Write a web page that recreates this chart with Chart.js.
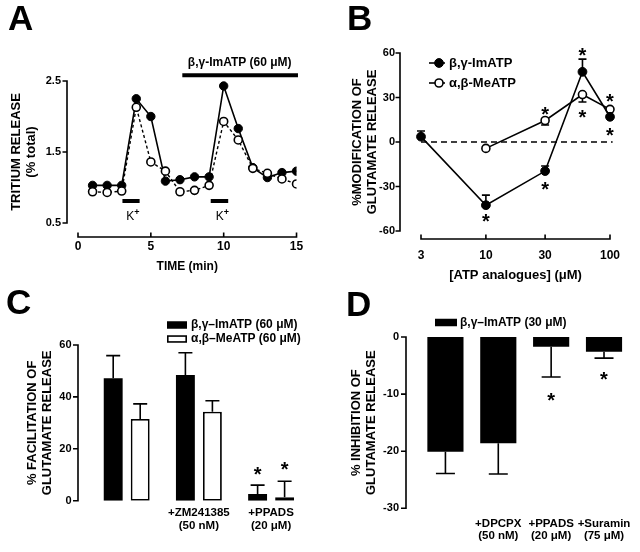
<!DOCTYPE html>
<html>
<head>
<meta charset="utf-8">
<title>ATP analogues and glutamate release</title>
<script src="https://cdn.jsdelivr.net/npm/chart.js@4.4.1/dist/chart.umd.min.js"></script>
<style>
  html, body { margin: 0; padding: 0; background: #fff; }
  #fig { position: relative; width: 640px; height: 552px; overflow: hidden; font-family: 'Liberation Sans', Arial, sans-serif; }
  #fig canvas { position: absolute; }
  .letter { position: absolute; font-size: 35px; font-weight: bold; line-height: 1; color: #000; }
</style>
</head>
<body>
<div id="fig">
  <canvas id="chart-a" width="320" height="276" style="left:0;top:0"></canvas>
  <canvas id="chart-b" width="320" height="290" style="left:320px;top:0"></canvas>
  <canvas id="chart-c" width="320" height="276" style="left:0;top:276px"></canvas>
  <canvas id="chart-d" width="320" height="276" style="left:320px;top:276px"></canvas>
  <div class="letter" style="left:8px;top:0">A</div>
  <div class="letter" style="left:347px;top:0">B</div>
  <div class="letter" style="left:6px;top:284px">C</div>
  <div class="letter" style="left:346px;top:286px">D</div>
</div>
<script>
const FONT = "'Liberation Sans', Arial, Helvetica, sans-serif";

// Panel A - tritium release time course
const timeA = [1, 2, 3, 4, 5, 6, 7, 8, 9, 10, 11, 12, 13, 14, 15];
const imatpA = [1.03, 1.03, 1.03, 2.25, 2.0, 1.09, 1.11, 1.15, 1.15, 2.43, 1.83, 1.28, 1.14, 1.21, 1.23];
const meatpA = [0.94, 0.93, 0.95, 2.13, 1.36, 1.23, 0.94, 0.96, 1.03, 1.93, 1.67, 1.27, 1.2, 1.12, 1.05];
const kStartA = [3.05, 9.11];
const kEndA = [4.23, 10.31];
const kLevelA = 0.81;
const drugSpanA = [7.16, 15.1];
const drugLevelA = 2.58;

// Panel B - concentration response
const concB = [3, 10, 30, 60, 100];
const concTicksB = [3, 10, 30, 100];
const imatpB = [3.6, -42.6, -19.6, 47.3, 17];
const imatpErrB = [3.8, 6.8, 3.4, 8.6, 0];
const meatpB = [null, -4.3, 14.5, 32, 22];
const meatpErrB = [0, 0, -3, -5, 0];
const starsB = [
  {x: 10, y: -50}, {x: 30, y: -28.6}, {x: 30, y: 22}, {x: 60, y: 61.5},
  {x: 60, y: 19.9}, {x: 100, y: 30.7}, {x: 100, y: 8.1}
];

// Panel C - facilitation
const catsC = ['', ['+ZM241385', '(50 nM)'], ['+PPADS', '(20 μM)']];
const imatpC = [47.2, 48.4, 2.6];
const imatpErrC = [8.7, 8.6, 3.4];
const meatpC = [31.5, 34.3, 1.3];
const meatpErrC = [5.8, 4.2, 6.2];
const starsC = [{ds: 0, i: 2, y: 12.2}, {ds: 1, i: 2, y: 13.8}];

// Panel D - inhibition
const catsD = ['', ['+DPCPX', '(50 nM)'], ['+PPADS', '(20 μM)'], ['+Suramin', '(75 μM)']];
const imatpD = [-20.1, -18.6, -1.7, -2.6];
const imatpErrD = [-3.8, -5.4, -5.3, -1.1];
const starsD = [{ds: 0, i: 2, y: -10.3}, {ds: 0, i: 3, y: -6.5}];

Chart.defaults.font.family = FONT;
Chart.defaults.color = '#000';
Chart.defaults.animation = false;
Chart.defaults.responsive = false;
Chart.defaults.layout.autoPadding = false;
Chart.defaults.plugins.legend.display = false;
Chart.defaults.plugins.tooltip.enabled = false;

// Prism-style detached axes
function prismAxes(cfg) {
  return {
    id: 'prismAxes',
    afterDraw(chart) {
      const ctx = chart.ctx, area = chart.chartArea, xs = chart.scales.x, ys = chart.scales.y;
      ctx.save();
      ctx.strokeStyle = '#000';
      ctx.lineWidth = 1.6;
      ctx.setLineDash([]);
      ctx.beginPath();
      const ax = area.left - cfg.yGap;
      ctx.moveTo(ax, ys.getPixelForValue(ys.min) + 0.8);
      ctx.lineTo(ax, ys.getPixelForValue(ys.max) - 0.8);
      ys.ticks.forEach(t => {
        const py = ys.getPixelForValue(t.value);
        ctx.moveTo(ax - cfg.tickLen, py);
        ctx.lineTo(ax, py);
      });
      if (cfg.xGap !== undefined) {
        const ay = area.bottom + cfg.xGap;
        ctx.moveTo(xs.getPixelForValue(xs.min) - 0.8, ay);
        ctx.lineTo(xs.getPixelForValue(xs.max) + 0.8, ay);
        xs.ticks.forEach(t => {
          const px = xs.getPixelForValue(t.value);
          ctx.moveTo(px, ay);
          ctx.lineTo(px, ay - cfg.tickLen);
        });
      }
      ctx.stroke();
      ctx.restore();
    }
  };
}

// One-sided error bars; sign of error gives direction
function errorBars(cap) {
  return {
    id: 'errorBars',
    beforeDatasetsDraw(chart) {
      const ctx = chart.ctx, ys = chart.scales.y;
      ctx.save();
      ctx.strokeStyle = '#000';
      ctx.lineWidth = 1.6;
      chart.data.datasets.forEach((ds, di) => {
        if (!ds.errors) return;
        chart.getDatasetMeta(di).data.forEach((el, i) => {
          const raw = ds.data[i];
          const v = (raw !== null && typeof raw === 'object') ? raw.y : raw;
          const e = ds.errors[i];
          if (!e || v === null || v === undefined) return;
          const y0 = ys.getPixelForValue(v), y1 = ys.getPixelForValue(v + e);
          ctx.beginPath();
          ctx.moveTo(el.x, y0);
          ctx.lineTo(el.x, y1);
          ctx.moveTo(el.x - cap / 2, y1);
          ctx.lineTo(el.x + cap / 2, y1);
          ctx.stroke();
        });
      });
      ctx.restore();
    }
  };
}

function starMarks(items, size) {
  return {
    id: 'starMarks',
    afterDatasetsDraw(chart) {
      const ctx = chart.ctx, xs = chart.scales.x, ys = chart.scales.y;
      ctx.save();
      ctx.font = 'bold ' + size + 'px ' + FONT;
      ctx.textAlign = 'center';
      ctx.textBaseline = 'alphabetic';
      ctx.fillStyle = '#000';
      items.forEach(s => {
        const px = s.ds !== undefined ? chart.getDatasetMeta(s.ds).data[s.i].x : xs.getPixelForValue(s.x);
        ctx.fillText('*', px, ys.getPixelForValue(s.y) + size * 0.58);
      });
      ctx.restore();
    }
  };
}

function textMarks(items) {
  return {
    id: 'textMarks',
    afterDraw(chart) {
      const ctx = chart.ctx, xs = chart.scales.x, ys = chart.scales.y;
      ctx.save();
      ctx.fillStyle = '#000';
      ctx.textBaseline = 'middle';
      items.forEach(t => {
        const px = xs.getPixelForValue(t.x), py = ys.getPixelForValue(t.y);
        ctx.font = t.font;
        ctx.textAlign = t.align;
        ctx.fillText(t.text, px, py);
        if (t.sup) {
          const w = ctx.measureText(t.text).width;
          ctx.font = 'bold 9px ' + FONT;
          ctx.textAlign = 'left';
          ctx.fillText(t.sup, px + w, py - 4);
        }
      });
      ctx.restore();
    }
  };
}

function figLegend(cfg) {
  return {
    id: 'figLegend',
    afterDraw(chart) {
      const ctx = chart.ctx;
      ctx.save();
      cfg.items.forEach((it, k) => {
        const ds = chart.data.datasets[it.ds];
        const y = cfg.y + k * cfg.rowH;
        if (it.kind === 'line') {
          ctx.setLineDash([]);
          ctx.strokeStyle = '#000';
          ctx.lineWidth = 1.6;
          ctx.beginPath();
          ctx.moveTo(cfg.x, y);
          ctx.lineTo(cfg.x + cfg.symW, y);
          ctx.stroke();
          ctx.beginPath();
          ctx.arc(cfg.x + cfg.pointX, y, ds.pointRadius, 0, Math.PI * 2);
          ctx.fillStyle = ds.pointBackgroundColor;
          ctx.fill();
          ctx.lineWidth = ds.pointBorderWidth;
          ctx.strokeStyle = ds.pointBorderColor;
          ctx.stroke();
        } else {
          ctx.fillStyle = ds.backgroundColor;
          ctx.fillRect(cfg.x, y - cfg.boxH / 2, cfg.symW, cfg.boxH);
          if (ds.borderWidth) {
            ctx.strokeStyle = ds.borderColor;
            ctx.lineWidth = 1.6;
            ctx.strokeRect(cfg.x + 0.8, y - cfg.boxH / 2 + 0.8, cfg.symW - 1.6, cfg.boxH - 1.6);
          }
        }
        ctx.fillStyle = '#000';
        ctx.font = cfg.font;
        ctx.textAlign = 'left';
        ctx.textBaseline = 'middle';
        ctx.fillText(ds.label, cfg.x + cfg.textX, y);
      });
      ctx.restore();
    }
  };
}

const noGrid = { display: false, drawTicks: false };
const tickFont = { size: 11, weight: 'bold' };
const titleFont = { size: 13, weight: 'bold', lineHeight: 1.2 };

// ---------- Panel A ----------
const flatLine = { borderColor: '#000', borderWidth: 4, pointRadius: 0, clip: false, borderCapStyle: 'butt' };
new Chart(document.getElementById('chart-a'), {
  type: 'line',
  data: {
    datasets: [
      {
        label: 'α,β-MeATP',
        data: timeA.map((t, i) => ({x: t, y: meatpA[i]})),
        borderColor: '#000', borderWidth: 1.4, borderDash: [3, 2.5],
        pointRadius: 4, pointBackgroundColor: '#fff', pointBorderColor: '#000', pointBorderWidth: 1.6,
        clip: {left: 10, top: 10, right: 0, bottom: 10}
      },
      {
        label: 'β,γ-ImATP',
        data: timeA.map((t, i) => ({x: t, y: imatpA[i]})),
        borderColor: '#000', borderWidth: 1.6,
        pointRadius: 4.2, pointBackgroundColor: '#000', pointBorderColor: '#000', pointBorderWidth: 1,
        clip: {left: 10, top: 10, right: 0, bottom: 10}
      },
      Object.assign({ data: [{x: kStartA[0], y: kLevelA}, {x: kEndA[0], y: kLevelA}] }, flatLine),
      Object.assign({ data: [{x: kStartA[1], y: kLevelA}, {x: kEndA[1], y: kLevelA}] }, flatLine),
      Object.assign({ data: [{x: drugSpanA[0], y: drugLevelA}, {x: drugSpanA[1], y: drugLevelA}] }, flatLine)
    ]
  },
  options: {
    layout: { padding: { left: 0, right: 22, top: 81, bottom: 0 } },
    scales: {
      x: {
        type: 'linear', min: 0, max: 15,
        grid: noGrid, border: { display: false },
        ticks: { stepSize: 5, padding: 16.8, font: { size: 12, weight: 'bold' } },
        title: { display: true, text: 'TIME (min)', font: { size: 12, weight: 'bold', lineHeight: 1.2 }, padding: { top: 0, bottom: 2 } },
        afterFit: s => { s.height = 53; }
      },
      y: {
        min: 0.5, max: 2.5,
        grid: noGrid, border: { display: false },
        ticks: { stepSize: 1, padding: 17, font: tickFont, callback: v => v.toFixed(1) },
        title: { display: true, text: ['TRITIUM RELEASE', '(% total)'], font: titleFont, padding: { top: 8.2, bottom: 0 } },
        afterFit: s => { s.width = 78; }
      }
    }
  },
  plugins: [
    prismAxes({ yGap: 11, xGap: 14, tickLen: 4.5 }),
    textMarks([
      { x: 11.1, y: 2.754, text: 'β,γ-ImATP (60 μM)', font: 'bold 12px ' + FONT, align: 'center' },
      { x: 3.32, y: 0.593, text: 'K', sup: '+', font: '12px ' + FONT, align: 'left' },
      { x: 9.45, y: 0.593, text: 'K', sup: '+', font: '12px ' + FONT, align: 'left' }
    ])
  ]
});

// ---------- Panel B ----------
new Chart(document.getElementById('chart-b'), {
  type: 'line',
  data: {
    datasets: [
      {
        label: 'β,γ-ImATP',
        data: concB.map((c, i) => ({x: c, y: imatpB[i]})),
        errors: imatpErrB,
        borderColor: '#000', borderWidth: 1.6,
        pointRadius: 4.4, pointBackgroundColor: '#000', pointBorderColor: '#000', pointBorderWidth: 1,
        clip: false
      },
      {
        label: 'α,β-MeATP',
        data: concB.map((c, i) => ({x: c, y: meatpB[i]})),
        errors: meatpErrB,
        borderColor: '#000', borderWidth: 1.6,
        pointRadius: 4, pointBackgroundColor: '#fff', pointBorderColor: '#000', pointBorderWidth: 1.6,
        clip: false
      },
      {
        data: [{x: 3, y: 0}, {x: 105, y: 0}],
        borderColor: '#000', borderWidth: 1.6, borderDash: [6, 4], pointRadius: 0, clip: false
      }
    ]
  },
  options: {
    layout: { padding: { left: 0, right: 30, top: 53, bottom: 0 } },
    scales: {
      x: {
        type: 'logarithmic', min: 3, max: 100,
        grid: noGrid, border: { display: false },
        afterBuildTicks: s => { s.ticks = concTicksB.map(v => ({ value: v })); },
        ticks: { autoSkip: false, maxRotation: 0, padding: 17.8, font: { size: 12, weight: 'bold' }, callback: v => String(v) },
        title: { display: true, text: '[ATP analogues] (μM)', font: titleFont, padding: { top: 0, bottom: 6.8 } },
        afterFit: s => { s.height = 59; }
      },
      y: {
        min: -60, max: 60,
        grid: noGrid, border: { display: false },
        ticks: { stepSize: 30, padding: 26, font: tickFont },
        title: { display: true, text: ['%MODIFICATION OF', 'GLUTAMATE RELEASE'], font: titleFont, padding: { top: 29.2, bottom: 0 } },
        afterFit: s => { s.width = 101; }
      }
    }
  },
  plugins: [
    prismAxes({ yGap: 21, xGap: 8, tickLen: 4.5 }),
    errorBars(8),
    starMarks(starsB, 20),
    figLegend({ x: 109, y: 63, rowH: 20, symW: 16, pointX: 10, textX: 20, font: 'bold 13px ' + FONT,
      items: [{ ds: 0, kind: 'line' }, { ds: 1, kind: 'line' }] })
  ]
});

// ---------- Panel C ----------
new Chart(document.getElementById('chart-c'), {
  type: 'bar',
  data: {
    labels: catsC,
    datasets: [
      { label: 'β,γ–ImATP (60 μM)', data: imatpC, errors: imatpErrC, backgroundColor: '#000', borderColor: '#000', borderWidth: 0 },
      { label: 'α,β–MeATP (60 μM)', data: meatpC, errors: meatpErrC, backgroundColor: '#fff', borderColor: '#000', borderWidth: 1.8, borderSkipped: false }
    ]
  },
  options: {
    datasets: { bar: { categoryPercentage: 0.748, barPercentage: 0.7 } },
    layout: { padding: { left: 0, right: 12.8, top: 69, bottom: 0 } },
    scales: {
      x: {
        grid: noGrid, border: { display: false },
        ticks: { autoSkip: false, minRotation: 0, maxRotation: 0, padding: 5.7, font: { size: 11.5, weight: 'bold', lineHeight: 1.15 } },
        afterFit: s => { s.height = 51.3; }
      },
      y: {
        min: 0, max: 60,
        grid: noGrid, border: { display: false },
        ticks: { stepSize: 20, padding: 19, font: tickFont },
        title: { display: true, text: ['% FACILITATION OF', 'GLUTAMATE RELEASE'], font: titleFont, padding: { top: 24.2, bottom: 0 } },
        afterFit: s => { s.width = 90.6; }
      }
    }
  },
  plugins: [
    prismAxes({ yGap: 12.6, tickLen: 5 }),
    errorBars(14),
    starMarks(starsC, 20),
    figLegend({ x: 167, y: 49, rowH: 14, symW: 20, boxH: 7.5, textX: 24, font: 'bold 12px ' + FONT,
      items: [{ ds: 0, kind: 'box' }, { ds: 1, kind: 'box' }] })
  ]
});

// ---------- Panel D ----------
new Chart(document.getElementById('chart-d'), {
  type: 'bar',
  data: {
    labels: catsD,
    datasets: [
      { label: 'β,γ–ImATP (30 μM)', data: imatpD, errors: imatpErrD, backgroundColor: '#000', borderColor: '#000', borderWidth: 0 }
    ]
  },
  options: {
    datasets: { bar: { categoryPercentage: 0.8, barPercentage: 0.855 } },
    layout: { padding: { left: 0, right: 5, top: 61, bottom: 0 } },
    scales: {
      x: {
        grid: noGrid, border: { display: false },
        ticks: { autoSkip: false, minRotation: 0, maxRotation: 0, padding: 9, font: { size: 11.5, weight: 'bold', lineHeight: 1.1 } },
        afterFit: s => { s.height = 43.7; }
      },
      y: {
        min: -30, max: 0,
        grid: noGrid, border: { display: false },
        ticks: { stepSize: 10, padding: 20, font: tickFont },
        title: { display: true, text: ['% INHIBITION OF', 'GLUTAMATE RELEASE'], font: titleFont, padding: { top: 28.2, bottom: 0 } },
        afterFit: s => { s.width = 99; }
      }
    }
  },
  plugins: [
    prismAxes({ yGap: 13, tickLen: 5 }),
    errorBars(19),
    starMarks(starsD, 20),
    figLegend({ x: 115, y: 46.5, rowH: 14, symW: 22, boxH: 7.5, textX: 25, font: 'bold 12px ' + FONT,
      items: [{ ds: 0, kind: 'box' }] })
  ]
});
</script>
</body>
</html>
